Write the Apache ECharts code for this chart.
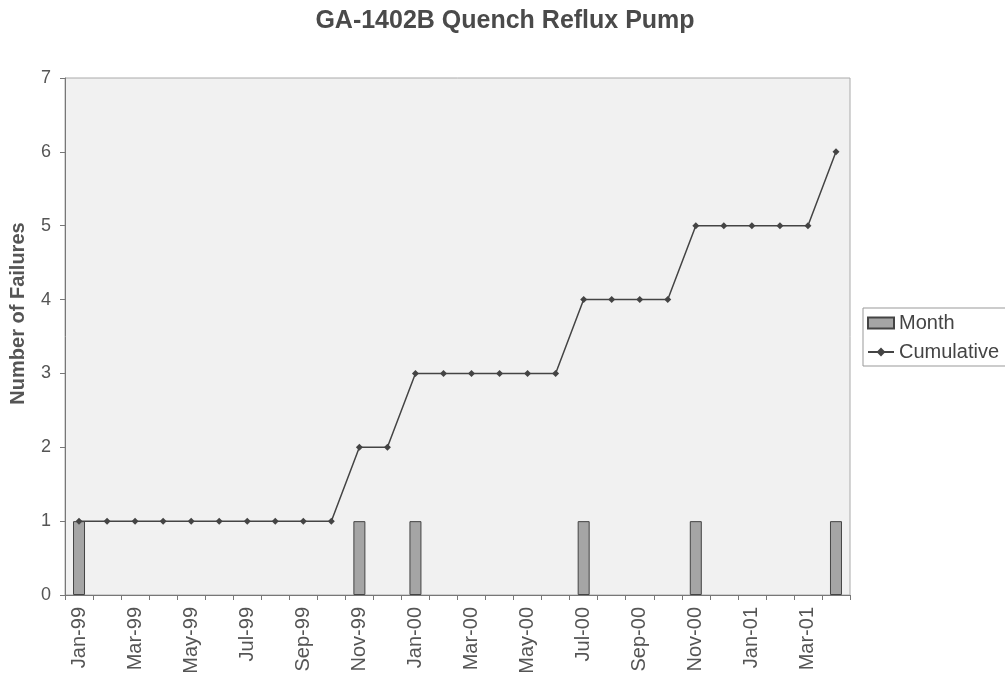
<!DOCTYPE html>
<html>
<head>
<meta charset="utf-8">
<script src="https://cdn.jsdelivr.net/npm/echarts@6/dist/echarts.min.js"></script>
<style>
  html, body { margin: 0; padding: 0; background: #fff; }
  #main { width: 1005px; height: 680px; }
</style>
</head>
<body>
<div id="main"></div>
<script>
// months Jan-99 .. Apr-01
const months = [
  'Jan-99', 'Feb-99', 'Mar-99', 'Apr-99', 'May-99', 'Jun-99', 'Jul-99', 'Aug-99', 'Sep-99', 'Oct-99', 'Nov-99', 'Dec-99',
  'Jan-00', 'Feb-00', 'Mar-00', 'Apr-00', 'May-00', 'Jun-00', 'Jul-00', 'Aug-00', 'Sep-00', 'Oct-00', 'Nov-00', 'Dec-00',
  'Jan-01', 'Feb-01', 'Mar-01', 'Apr-01'
];
// failures per month ('-' = none)
const monthFailures = [
  1, '-', '-', '-', '-', '-', '-', '-', '-', '-', 1, '-',
  1, '-', '-', '-', '-', '-', 1, '-', '-', '-', 1, '-',
  '-', '-', '-', 1
];
const cumulative = [
  1, 1, 1, 1, 1, 1, 1, 1, 1, 1, 2, 2,
  3, 3, 3, 3, 3, 3, 4, 4, 4, 4, 5, 5,
  5, 5, 5, 6
];

const font = 'Liberation Sans, Arial, sans-serif';
const chart = echarts.init(document.getElementById('main'));

chart.setOption({
  animation: false,
  backgroundColor: '#fff',
  title: {
    text: 'GA-1402B Quench Reflux Pump',
    left: 500,
    top: 4,
    textAlign: 'center',
    textStyle: { fontFamily: font, fontSize: 25, fontWeight: 'bold', color: '#4a4a4a' }
  },
  legend: {
    orient: 'vertical',
    left: 863,
    top: 308,
    padding: [5, 8, 4, 4],
    itemGap: 9,
    itemWidth: 26,
    itemHeight: 11,
    borderColor: '#999',
    borderWidth: 1,
    textStyle: { fontFamily: font, fontSize: 20, color: '#444' },
    data: [{ name: 'Month', icon: 'rect' }, 'Cumulative']
  },
  grid: {
    left: 65,
    right: 155,
    top: 78,
    bottom: 85,
    show: true,
    backgroundColor: '#f1f1f1',
    borderColor: '#aaa',
    borderWidth: 1
  },
  xAxis: {
    type: 'category',
    data: months,
    boundaryGap: true,
    axisLine: { lineStyle: { color: '#777' } },
    axisTick: { show: true, interval: 0, length: 5, lineStyle: { color: '#777' } },
    axisLabel: {
      rotate: 90,
      interval: 1,
      margin: 12,
      fontFamily: font,
      fontSize: 20,
      color: '#555'
    },
    splitLine: { show: false }
  },
  yAxis: {
    type: 'value',
    min: 0,
    max: 7,
    interval: 1,
    name: 'Number of Failures',
    nameLocation: 'middle',
    nameGap: 37,
    nameTextStyle: {
      fontFamily: font, fontSize: 20, fontWeight: 'bold', color: '#555',
      padding: [0, 0, 0, 46]  // nudges the label up, as in the original
    },
    axisLine: { show: true, lineStyle: { color: '#777' } },
    axisTick: { show: true, length: 5, lineStyle: { color: '#777' } },
    axisLabel: { fontFamily: font, fontSize: 18, color: '#555', margin: 14 },
    splitLine: { show: false }
  },
  series: [
    {
      name: 'Month',
      type: 'bar',
      data: monthFailures,
      barWidth: 12,
      itemStyle: { color: '#a5a5a5', borderColor: '#444', borderWidth: 1 }
    },
    {
      name: 'Cumulative',
      type: 'line',
      data: cumulative,
      symbol: 'diamond',
      symbolSize: 7,
      lineStyle: { color: '#444', width: 1.5 },
      itemStyle: { color: '#444' }
    }
  ]
});
</script>
</body>
</html>
